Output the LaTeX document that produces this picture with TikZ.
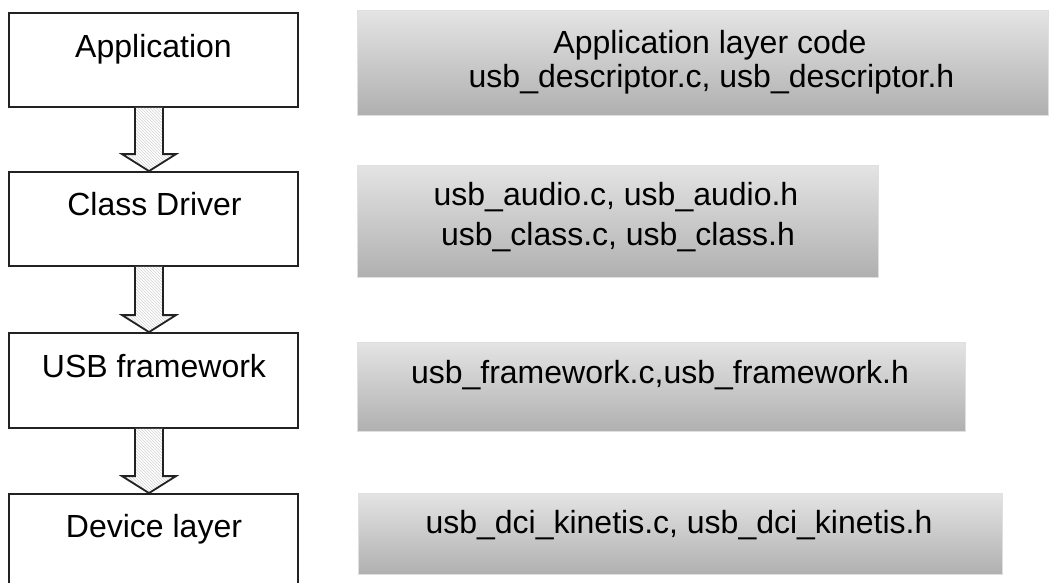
\documentclass[tikz,border=0pt]{standalone}
\usepackage{fontspec}
\setmainfont{Liberation Sans}
\usetikzlibrary{calc,patterns}
\definecolor{shtop}{RGB}{228,228,228}
\definecolor{shbot}{RGB}{176,176,176}
\definecolor{edge}{RGB}{34,34,34}
\begin{document}
\begin{tikzpicture}[x=1pt,y=-1pt,
  lbox/.style={draw=edge,line width=1.8pt,fill=white,rectangle,inner sep=0pt,minimum width=289pt},
  rbox/.style={draw=gray!25,line width=0.6pt,rectangle,inner sep=0pt,top color=shtop,bottom color=shbot},
  txt/.style={font=\fontsize{32}{38}\selectfont,anchor=base,inner sep=0pt,text=black},
  barrow/.style={draw=edge,line width=1.8pt,line join=miter,preaction={fill=white},pattern=north west lines,pattern color=gray!35}
]
\clip (0,0) rectangle (1050,582);
\fill[white] (0,0) rectangle (1050,582);

% left boxes
\node[lbox,minimum height=94pt] (app) at (153.5,60) {};
\node[lbox,minimum height=94pt] (cls) at (153.5,219) {};
\node[lbox,minimum height=95pt] (fw) at (153.5,380.5) {};
\node[lbox,minimum height=120pt] (dev) at (153.5,554) {};

\node[txt] (appt) at (153.5,57) {Application};
\node[txt] (clst) at (154.5,215) {Class Driver};
\node[txt] (fwt) at (154,377) {USB framework};
\node[txt] (devt) at (154,537) {Device layer};

% block arrows
\foreach \a/\b in {app/cls,cls/fw,fw/dev}{
  \draw[barrow] ($(\a.south)+(-18.5,0)$) -- ($(\b.north)+(-18.5,-17)$) -- ($(\b.north)+(-31.5,-17)$)
    -- ($(\b.north)+(-4.5,0)$) -- ($(\b.north)+(22.5,-17)$) -- ($(\b.north)+(9.5,-17)$) -- ($(\a.south)+(9.5,0)$);
}

% right boxes
\node[rbox,minimum width=691pt,minimum height=105pt] (r1) at (702.5,62.5) {};
\node[rbox,minimum width=521pt,minimum height=112pt] (r2) at (617.5,221) {};
\node[rbox,minimum width=608pt,minimum height=89pt] (r3) at (661,386.5) {};
\node[rbox,minimum width=644pt,minimum height=81pt] (r4) at (680,533.5) {};

\node[txt] (r1a) at (710,53) {Application layer code};
\node[txt] (r1b) at (711.5,87) {usb\_descriptor.c, usb\_descriptor.h};
\node[txt] (r2a) at (616,205) {usb\_audio.c, usb\_audio.h};
\node[txt] (r2b) at (618,245) {usb\_class.c, usb\_class.h};
\node[txt] (r3a) at (660,383) {usb\_framework.c,usb\_framework.h};
\node[txt] (r4a) at (679,533) {usb\_dci\_kinetis.c, usb\_dci\_kinetis.h};
\end{tikzpicture}
\end{document}
